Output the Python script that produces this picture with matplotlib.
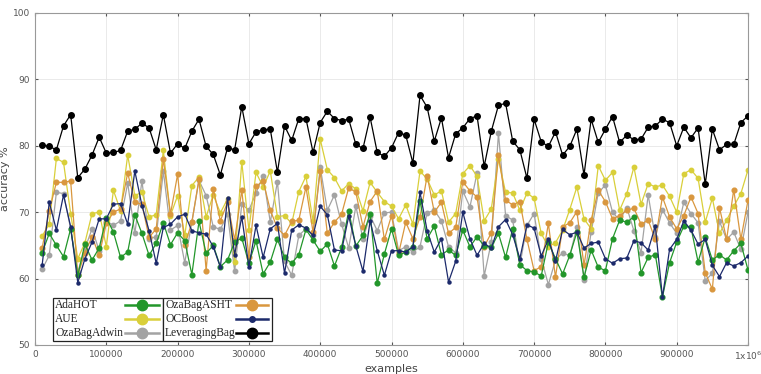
import numpy as np
import matplotlib
matplotlib.use("Agg")
import matplotlib.pyplot as plt
from matplotlib.lines import Line2D
from matplotlib.patches import Rectangle

# ------------------------------------------------------------------ data
examples = np.arange(10000, 1000001, 10000)

ada_hot = [63.9, 66.8, 65.0, 63.3, 67.5, 60.5, 65.2, 62.8, 64.6, 69.2,
           67.0, 63.2, 64.0, 69.6, 66.8, 63.5, 65.3, 68.4, 65.1, 66.9,
           65.7, 60.6, 68.6, 63.8, 65.0, 61.8, 62.8, 65.5, 66.1, 62.3,
           65.7, 60.7, 62.5, 65.9, 63.2, 62.3, 63.6, 67.4, 65.8, 64.1,
           65.2, 61.9, 64.7, 70.2, 64.9, 66.5, 69.8, 59.3, 63.7, 67.5,
           63.5, 64.0, 64.8, 71.7, 66.0, 67.9, 63.6, 64.3, 63.5, 67.3,
           64.8, 66.3, 64.9, 64.7, 66.8, 63.2, 67.5, 62.1, 61.2, 61.0,
           60.4, 65.5, 63.0, 60.7, 63.5, 67.0, 60.2, 64.3, 61.7, 61.2,
           66.0, 68.8, 68.5, 69.3, 60.9, 63.2, 63.6, 57.2, 62.4, 65.5,
           67.9, 67.7, 62.5, 66.2, 62.8, 63.6, 62.8, 64.2, 65.3, 61.3]

aue = [66.4, 68.2, 78.1, 77.5, 69.8, 63.0, 65.4, 69.8, 70.0, 64.8,
       73.3, 70.2, 78.6, 72.5, 73.0, 69.3, 69.6, 79.3, 69.5, 72.5,
       66.5, 74.0, 75.3, 69.3, 72.6, 69.9, 72.0, 62.5, 77.6, 67.3,
       76.0, 73.8, 76.2, 69.3, 69.5, 68.3, 73.1, 75.4, 68.6, 81.0,
       76.4, 75.2, 73.2, 74.3, 73.5, 70.2, 74.5, 73.0, 71.6, 70.9,
       69.0, 71.1, 68.2, 76.2, 75.0, 72.6, 73.2, 68.5, 69.8, 75.8,
       77.0, 75.4, 68.7, 70.5, 78.0, 73.0, 72.9, 70.3, 72.9, 72.1,
       66.8, 64.8, 65.4, 67.3, 70.4, 73.8, 69.0, 67.5, 77.0, 74.8,
       76.0, 70.3, 72.8, 76.8, 71.2, 74.3, 73.8, 74.1, 72.4, 70.0,
       75.8, 76.4, 75.1, 68.5, 72.1, 66.8, 68.8, 70.9, 72.8, 76.4]

oza_bag_adwin = [61.4, 63.5, 73.0, 72.8, 67.5, 61.0, 64.5, 67.5, 64.2, 68.7,
                 68.0, 68.7, 74.4, 66.8, 74.7, 66.0, 66.3, 76.2, 67.3, 68.0,
                 62.4, 68.5, 74.8, 72.5, 67.8, 67.4, 69.7, 61.1, 71.2, 70.3,
                 72.9, 75.5, 68.5, 74.6, 62.6, 60.5, 66.5, 67.5, 66.5, 76.8,
                 70.3, 72.6, 68.2, 64.6, 70.9, 66.0, 69.5, 67.2, 69.9, 70.0,
                 64.2, 64.8, 64.0, 64.8, 69.9, 70.3, 68.7, 64.8, 63.9, 73.2,
                 70.8, 75.9, 60.4, 65.5, 81.9, 69.5, 68.8, 62.0, 68.0, 69.8,
                 63.0, 59.1, 62.8, 63.9, 63.4, 67.8, 59.8, 67.0, 72.9, 74.1,
                 70.0, 68.8, 70.7, 67.2, 63.9, 72.6, 66.2, 70.4, 68.4, 66.8,
                 71.5, 69.8, 68.4, 59.7, 60.8, 68.6, 65.9, 67.0, 64.4, 70.0]

oza_bag_asht = [64.6, 70.2, 74.5, 74.5, 74.7, 60.5, 63.9, 66.3, 63.5, 68.3,
                70.0, 70.5, 75.9, 71.5, 71.2, 66.2, 67.5, 78.0, 69.7, 75.7,
                65.0, 68.5, 75.0, 61.2, 73.5, 68.7, 71.5, 65.8, 73.3, 63.2,
                73.9, 74.7, 70.3, 67.6, 66.5, 68.6, 68.8, 73.8, 67.0, 76.2,
                66.8, 68.5, 69.7, 73.7, 73.0, 67.8, 71.6, 73.2, 65.9, 69.5,
                63.8, 68.5, 66.0, 69.3, 75.5, 70.0, 71.5, 66.8, 67.7, 74.6,
                73.2, 72.3, 64.8, 66.9, 78.6, 71.8, 71.1, 71.6, 65.9, 61.2,
                61.8, 68.3, 60.2, 67.8, 68.4, 70.1, 62.0, 68.8, 73.3, 71.6,
                69.0, 69.5, 70.3, 70.6, 68.2, 68.8, 65.9, 72.3, 69.3, 67.5,
                69.5, 72.3, 69.8, 60.9, 58.4, 70.7, 65.9, 73.4, 65.9, 71.8]

oc_boost = [62.0, 71.5, 67.3, 72.6, 67.8, 59.4, 63.0, 65.5, 69.0, 69.0,
            71.2, 71.3, 68.2, 76.2, 71.0, 67.2, 62.3, 67.7, 68.2, 69.3,
            69.7, 67.2, 66.9, 66.7, 64.8, 61.7, 72.2, 63.6, 69.3, 61.8,
            68.0, 63.2, 67.5, 68.3, 60.8, 67.3, 68.1, 67.6, 66.5, 70.9,
            69.6, 64.3, 64.2, 69.4, 64.9, 61.1, 68.7, 64.2, 60.5, 64.2,
            64.2, 64.0, 64.8, 73.0, 67.2, 64.0, 66.0, 59.5, 62.6, 70.0,
            66.0, 63.5, 65.3, 64.6, 67.8, 68.9, 66.6, 63.0, 68.1, 67.6,
            63.4, 65.9, 62.6, 67.4, 66.6, 67.0, 64.6, 65.3, 65.5, 63.0,
            62.3, 63.0, 63.1, 65.7, 65.4, 64.3, 67.9, 57.2, 64.4, 65.9,
            68.7, 67.3, 65.2, 65.9, 62.0, 60.3, 62.4, 61.9, 62.4, 63.4]

leveraging_bag = [80.1, 79.9, 79.4, 83.0, 84.7, 75.2, 76.5, 78.6, 81.3, 78.9,
                  79.0, 79.3, 82.2, 82.5, 83.4, 82.7, 79.4, 84.7, 78.9, 80.3,
                  79.6, 82.2, 84.0, 79.9, 78.7, 75.6, 79.7, 79.4, 85.9, 80.3,
                  82.1, 82.4, 82.5, 76.0, 83.0, 80.8, 84.1, 84.1, 79.0, 83.5,
                  85.2, 84.1, 83.8, 84.0, 80.2, 79.6, 84.3, 79.0, 78.4, 79.7,
                  82.0, 81.6, 77.4, 87.6, 85.8, 80.7, 84.2, 78.2, 81.8, 82.7,
                  84.1, 84.5, 76.9, 82.2, 86.1, 86.4, 80.7, 79.4, 75.1, 84.0,
                  80.6, 79.9, 82.1, 78.6, 79.9, 82.5, 75.6, 84.0, 80.5, 82.5,
                  84.4, 80.5, 81.6, 80.9, 81.0, 82.8, 83.0, 84.0, 83.5, 80.0,
                  82.8, 81.2, 82.7, 74.2, 82.5, 79.4, 80.2, 80.2, 83.5, 84.5]

x_ticks = [0, 100000, 200000, 300000, 400000, 500000, 600000, 700000, 800000, 900000, 1000000]
x_tick_labels = ['0', '100000', '200000', '300000', '400000', '500000',
                 '600000', '700000', '800000', '900000', '1x10$^6$']
y_ticks = [50, 60, 70, 80, 90, 100]

# ------------------------------------------------------------------ style
c_green = '#22962a'
c_yellow = '#d9cf3a'
c_gray = '#a3a3a3'
c_orange = '#d9973e'
c_navy = '#1c2a6b'
c_black = '#000000'

W, H = 761, 374
fig = plt.figure(figsize=(W / 100, H / 100), dpi=100)
ax = fig.add_axes([35 / W, 1 - 345 / H, 713 / W, 332 / H])

ax.plot(examples, oza_bag_adwin, color=c_gray, lw=0.9, marker='o', ms=3.2, zorder=2)
ax.plot(examples, aue, color=c_yellow, lw=0.9, marker='o', ms=3.2, zorder=2)
ax.plot(examples, oza_bag_asht, color=c_orange, lw=0.9, marker='o', ms=3.4, zorder=3)
ax.plot(examples, ada_hot, color=c_green, lw=0.9, marker='o', ms=3.4, zorder=3)
ax.plot(examples, oc_boost, color=c_navy, lw=0.9, marker='o', ms=2.2, zorder=4)
ax.plot(examples, leveraging_bag, color=c_black, lw=0.9, marker='o', ms=4.0, zorder=5)

ax.set_xlim(0, 1000000)
ax.set_ylim(50, 100)
ax.set_xticks(x_ticks)
ax.set_xticklabels(x_tick_labels)
ax.set_yticks(y_ticks)
ax.tick_params(labelsize=6.5, colors='#555555', length=2, direction='in',
               top=True, right=True)
ax.grid(True, color='#e6e6e6', lw=0.6)
ax.set_axisbelow(True)
for s in ax.spines.values():
    s.set_color('#999999')
    s.set_linewidth(0.8)

ax.set_xlabel('examples', fontsize=8, color='#444444', labelpad=1)
ax.set_ylabel('accuracy %', fontsize=8, color='#444444', labelpad=2)

# ------------------------------------------------------------------ legend (drawn by hand, two boxed columns)
def fx(px):
    return px / W

def fy(py):
    return 1 - py / H

legend_cols = [
    # box left, box right, line start, line end, entries
    (53, 163, 125, 159, [('AdaHOT', c_green, 7.5), ('AUE', c_yellow, 7.5),
                         ('OzaBagAdwin', c_gray, 7.5)]),
    (163, 272, 236, 268, [('OzaBagASHT', c_orange, 7.5), ('OCBoost', c_navy, 4),
                          ('LeveragingBag', c_black, 7.5)]),
]
row_y = [305, 319, 333]
box_top, box_bottom = 298, 341

for left, right, l0, l1, entries in legend_cols:
    fig.add_artist(Rectangle((fx(left), fy(box_bottom)), fx(right - left),
                             (box_bottom - box_top) / H, transform=fig.transFigure,
                             facecolor='white', edgecolor='#222222', lw=0.9,
                             zorder=10))
    for (label, color, ms), y in zip(entries, row_y):
        fig.text(fx(left + 2), fy(y), label, family='Liberation Serif',
                 fontsize=8.3, color='#222222', va='center', ha='left', zorder=11)
        fig.add_artist(Line2D([fx(l0), fx(l1)], [fy(y), fy(y)],
                              transform=fig.transFigure, color=color, lw=1.8,
                              zorder=11))
        fig.add_artist(Line2D([fx((l0 + l1) / 2)], [fy(y)],
                              transform=fig.transFigure, color=color, marker='o',
                              ms=ms, lw=0, zorder=12))

fig.savefig('out.png', dpi=100)
